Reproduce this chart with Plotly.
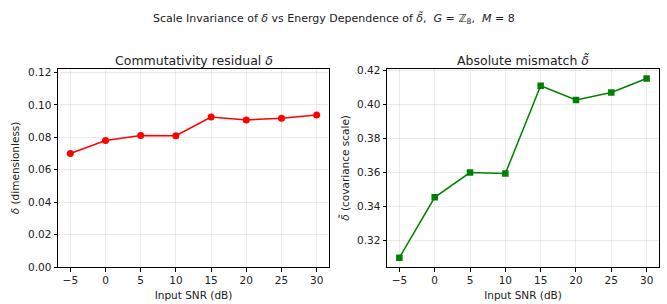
import plotly.graph_objects as go

snr = [-5, 0, 5, 10, 15, 20, 25, 30]
delta = [0.0700, 0.0780, 0.0811, 0.0810, 0.0925, 0.0907, 0.0917, 0.0937]
delta_tilde = [0.3097, 0.3453, 0.3599, 0.3593, 0.4111, 0.4027, 0.4071, 0.4154]
xticks = [-5, 0, 5, 10, 15, 20, 25, 30]
xticklabels = ["\u22125", "0", "5", "10", "15", "20", "25", "30"]
yticks_left = [0.00, 0.02, 0.04, 0.06, 0.08, 0.10, 0.12]
yticks_right = [0.32, 0.34, 0.36, 0.38, 0.40, 0.42]

FONT = "DejaVu Sans"
W, H = 667, 304

fig = go.Figure()
fig.add_trace(go.Scatter(x=snr, y=delta, mode="lines+markers",
                         line=dict(color="#ff0000", width=1.5),
                         marker=dict(symbol="circle", size=7, color="#ff0000"),
                         xaxis="x", yaxis="y", showlegend=False))
fig.add_trace(go.Scatter(x=snr, y=delta_tilde, mode="lines+markers",
                         line=dict(color="#008000", width=1.5),
                         marker=dict(symbol="square", size=6.5, color="#008000"),
                         xaxis="x2", yaxis="y2", showlegend=False))

def ax(**kw):
    d = dict(showline=True, linecolor="black", linewidth=1, mirror=True,
             ticks="outside", ticklen=3.5, tickwidth=0.8, tickcolor="black",
             showgrid=True, gridcolor="rgba(0,0,0,0.08)", gridwidth=0.8,
             zeroline=False, tickfont=dict(family=FONT, size=10.5, color="#222"),
             title_font=dict(family=FONT, size=10.5, color="#222"))
    d.update(kw)
    return d

xd1 = [58 / W, 329 / W]
xd2 = [387 / W, 659 / W]
yd = [(H - 272) / H, (H - 67) / H]

fig.update_layout(
    width=W, height=H,
    margin=dict(l=0, r=0, t=0, b=0),
    paper_bgcolor="white", plot_bgcolor="white",
    font=dict(family=FONT, color="#222"),
    xaxis=ax(domain=xd1, range=[-6.75, 31.75], tickvals=xticks, ticktext=xticklabels,
             anchor="y", title=dict(text="Input SNR (dB)", standoff=6)),
    yaxis=ax(domain=yd, range=[0, 0.1222], tickvals=yticks_left, tickformat=".2f",
             anchor="x", title=dict(text="<i>δ</i> (dimensionless)", standoff=6)),
    xaxis2=ax(domain=xd2, range=[-6.75, 31.75], tickvals=xticks, ticktext=xticklabels,
              anchor="y2", title=dict(text="Input SNR (dB)", standoff=6)),
    yaxis2=ax(domain=yd, range=[0.3042, 0.4211], tickvals=yticks_right, tickformat=".2f",
              anchor="x2", title=dict(text="<i>δ\u0303</i> (covariance scale)", standoff=5)),
    annotations=[
        dict(text="Scale Invariance of <i>δ</i> vs Energy Dependence of <i>δ\u0303</i>,  <i>G</i> = ℤ<sub>8</sub>,  <i>M</i> = 8",
             x=0.5, y=(H - 15) / H, xref="paper", yref="paper", showarrow=False,
             xanchor="center", yanchor="middle", font=dict(family=FONT, size=11, color="#222")),
        dict(text="Commutativity residual <i>δ</i>", x=(xd1[0] + xd1[1]) / 2, y=(H - 58) / H,
             xref="paper", yref="paper", showarrow=False, xanchor="center", yanchor="middle",
             font=dict(family=FONT, size=12.5, color="#222")),
        dict(text="Absolute mismatch <i>δ\u0303</i>", x=(xd2[0] + xd2[1]) / 2, y=(H - 58) / H,
             xref="paper", yref="paper", showarrow=False, xanchor="center", yanchor="middle",
             font=dict(family=FONT, size=12.5, color="#222")),
    ],
)

fig.write_html("out.html", config={"displayModeBar": False},
               post_script="document.body.style.margin='0';document.body.style.overflow='hidden';")
